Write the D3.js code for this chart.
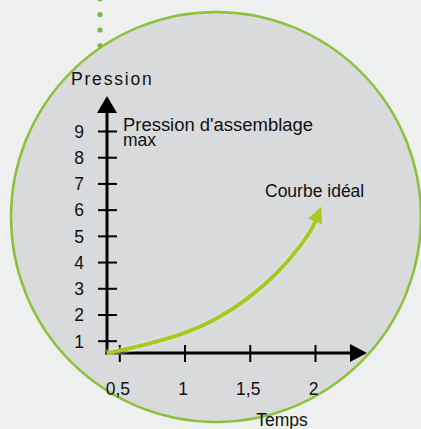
<!DOCTYPE html>
<html lang='fr'>
	<head>
		<title>Courbe idéale de pression</title>
		<meta charset=utf-8>
		<script src="https://cdn.jsdelivr.net/npm/d3@7"></script>
		<style>
			body {
				margin: 0;
				background-color: #eef0ef;
			}
			svg text {
				font-family: "Liberation Sans", Arial, sans-serif;
				fill: #111;
			}
		</style>
	</head>
	<body>
		<svg id='chart' width="421" height="429"></svg>
	</body>

	<script>
		// data
		var pressionTicks = [1, 2, 3, 4, 5, 6, 7, 8, 9];
		var tempsTicks = [0.5, 1, 1.5, 2];
		var tempsLabels = ["0,5", "1", "1,5", "2"];
		// courbe idéale (temps, pression)
		var courbeTemps = [0.403, 0.734, 0.989, 1.245, 1.500, 1.704, 1.882, 1.984, 2.048];
		var courbePression = [0.52, 0.90, 1.28, 1.85, 2.68, 3.57, 4.59, 5.35, 6.11];

		var svg = d3.select("#chart");

		// scales
		var x = d3.scaleLinear().domain([0.5, 2]).range([119.3, 315]);
		var y = d3.scaleLinear().domain([1, 9]).range([340.7, 131]);

		// axis origin in px
		var ox = 107, oy = 353;

		// green circle behind
		svg.append('circle').attr('cx', 216).attr('cy', 217).attr('r', 205)
			.attr('fill', '#d9dadc').attr('stroke', '#8cc13f').attr('stroke-width', 2.5);

		// dotted line coming from above
		[-1, 14.5, 30, 45.5].forEach(function(d) {
			svg.append('circle').attr('cx', 100).attr('cy', d).attr('r', 2.6).attr('fill', '#7cb83e');
		});

		// y axis (ticks cross the line)
		var gy = svg.append('g').attr('transform', 'translate(' + ox + ',0)')
			.call(d3.axisLeft(y).tickValues(pressionTicks).tickFormat(d3.format('d')).tickSize(0));
		gy.select('.domain').remove();
		gy.selectAll('.tick line').attr('x1', -9).attr('x2', 10).attr('stroke', '#000').attr('stroke-width', 2);
		gy.selectAll('.tick text').attr('x', -23).attr('dy', '0.36em')
			.style('font-size', '17.5px').style('font-family', '"Liberation Sans", Arial, sans-serif').attr('fill', '#111');

		// x axis
		var gx = svg.append('g').attr('transform', 'translate(0,' + oy + ')')
			.call(d3.axisBottom(x).tickValues(tempsTicks).tickFormat(function(d, i) { return tempsLabels[i]; }).tickSize(0));
		gx.select('.domain').remove();
		gx.selectAll('.tick line').attr('y1', -8).attr('y2', 9).attr('stroke', '#000').attr('stroke-width', 2);
		gx.selectAll('.tick text').attr('y', 42).attr('dy', 0).attr('dx', -2)
			.style('font-size', '17.5px').style('font-family', '"Liberation Sans", Arial, sans-serif').attr('fill', '#111');

		// axis lines with arrows
		svg.append('line').attr('x1', ox).attr('y1', oy + 1.5).attr('x2', ox).attr('y2', 110)
			.attr('stroke', '#000').attr('stroke-width', 3);
		svg.append('path').attr('d', 'M' + ox + ',96 L' + (ox + 10) + ',113 L' + (ox - 10) + ',113 Z').attr('fill', '#000');
		svg.append('line').attr('x1', ox - 1.5).attr('y1', oy).attr('x2', 352).attr('y2', oy)
			.attr('stroke', '#000').attr('stroke-width', 3);
		svg.append('path').attr('d', 'M367,' + oy + ' L350,' + (oy - 9) + ' L350,' + (oy + 9) + ' Z').attr('fill', '#000');

		// ideal curve
		var pts = courbeTemps.map(function(t, i) { return [x(t), y(courbePression[i])]; });
		var n = pts.length;
		var tip = pts[n - 1], prev = pts[n - 2];
		var ang = Math.atan2(tip[1] - prev[1], tip[0] - prev[0]);
		var len = 16, half = 7.5;
		var base = [tip[0] - len * Math.cos(ang), tip[1] - len * Math.sin(ang)];
		var line = d3.line().curve(d3.curveCatmullRom.alpha(0.5));
		var linePts = pts.slice(0, n - 1).concat([[tip[0] - 10 * Math.cos(ang), tip[1] - 10 * Math.sin(ang)]]);

		// soft halo
		svg.append('path').attr('d', line(linePts)).attr('fill', 'none')
			.attr('stroke', '#e8ecf2').attr('stroke-opacity', 0.35).attr('stroke-width', 8);
		svg.append('path').attr('d', line(linePts)).attr('fill', 'none')
			.attr('stroke', '#a8c91f').attr('stroke-width', 4);
		svg.append('path')
			.attr('d', 'M' + tip[0] + ',' + tip[1]
				+ ' L' + (base[0] + half * Math.sin(ang)) + ',' + (base[1] - half * Math.cos(ang))
				+ ' L' + (base[0] - half * Math.sin(ang)) + ',' + (base[1] + half * Math.cos(ang)) + ' Z')
			.attr('fill', '#a8c91f');

		// texts
		svg.append('text').attr('x', 71).attr('y', 85).style('font-size', '17.5px').style('letter-spacing', '1.8px').text('Pression');
		// two-line label in one text element
		var lab = svg.append('text').attr('x', 123).attr('y', 130.5).style('font-size', '17.5px');
		lab.append('tspan').attr('x', 123).attr('textLength', 190).attr('lengthAdjust', 'spacingAndGlyphs').text("Pression d'assemblage");
		lab.append('tspan').attr('x', 123).attr('dy', 15).text('max');
		svg.append('text').attr('x', 265).attr('y', 197).style('font-size', '17.5px').text('Courbe idéal');
		svg.append('text').attr('x', 282).attr('y', 426).attr('text-anchor', 'middle').style('font-size', '17.5px').text('Temps');
	</script>
</html>
